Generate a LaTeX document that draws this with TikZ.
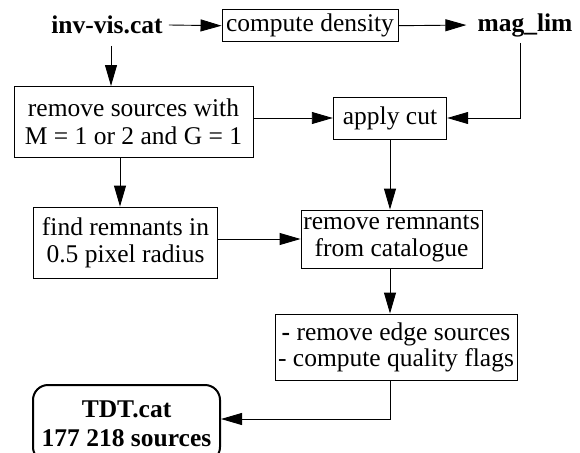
\documentclass[tikz,border=0pt]{standalone}
\usepackage{fontspec}
\setmainfont{Liberation Serif}
\usetikzlibrary{arrows.meta}
\begin{document}
\begin{tikzpicture}[x=1pt,y=-1pt,
  font=\fontsize{25.5}{27}\selectfont,
  box/.style={draw,line width=0.9pt,inner sep=0pt,align=center},
  term/.style={inner ysep=2pt,inner xsep=6pt,font=\fontsize{25.5}{27}\selectfont\bfseries},
  arr/.style={line width=0.9pt,-{Triangle[length=21pt,width=12pt]}},
  tdtbox/.style={draw,line width=2pt,rounded corners=15pt,inner sep=0pt,align=center,font=\fontsize{25.5}{29}\selectfont\bfseries}]
\useasboundingbox (0,0) rectangle (580,452);
\clip (0,0) rectangle (580,452);
\node[term] (inv) at (107,25) {inv-vis.cat};
\node[box,minimum width=176pt,minimum height=31.5pt] (dens) at (310,25.7) {compute density};
\node[term] (mag) at (525,25) {mag\_lim};
\node[box,minimum width=239pt,minimum height=71pt] (rem) at (133.5,122) {remove sources with\\[1pt]M = 1 or 2 and G = 1};
\node[box,minimum width=113.5pt,minimum height=42pt] (cut) at (390,118) {apply cut};
\node[box,minimum width=184pt,minimum height=71pt] (find) at (125.5,242.5) {find remnants in\\0.5 pixel radius};
\node[box,minimum width=181pt,minimum height=58pt] (remr) at (391.5,239) {remove remnants\\from catalogue};
\node[box,minimum width=242pt,minimum height=66pt] (edge) at (396,347) {\textbf{-} remove edge sources\\[-1pt]- compute quality flags};
\node[tdtbox,minimum width=187pt,minimum height=77pt] (tdt) at (126.5,423.5) {TDT.cat\\177 218 sources};
\coordinate (magc) at (520.5,43);
\draw[arr] (inv.east) -- (dens.west);
\draw[arr,shorten >=5pt] (dens.east) -- (mag.west);
\draw[arr] (111,46) -- (111,86) coordinate (remtop);
\draw[arr] (magc) |- (cut.east);
\draw[arr] (cut.west -| rem.east) -- (cut.west);
\draw[arr] (rem.south -| 120,0) -- (find.north -| 120,0);
\draw[arr] (cut.south) -- (cut.south |- remr.north);
\draw[arr] (remr.west -| find.east) -- (remr.west);
\draw[arr] (remr.south -| cut.south) -- (edge.north -| cut.south);
\draw[arr] (edge.south -| cut.south) |- (tdt.east |- 0,419);
\end{tikzpicture}
\end{document}
